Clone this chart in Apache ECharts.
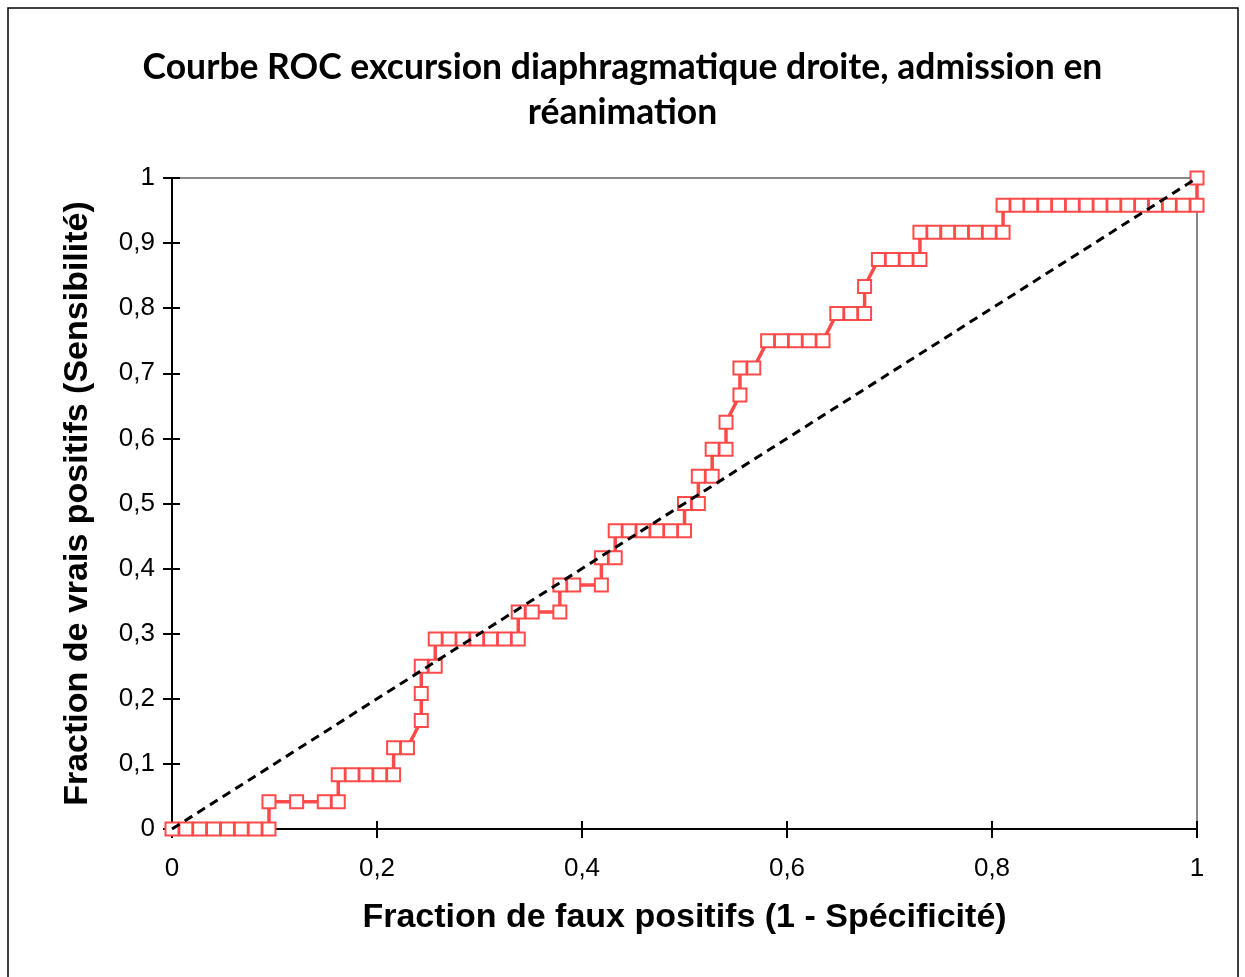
<!DOCTYPE html>
<html>
<head>
<meta charset="utf-8">
<title>Courbe ROC</title>
<script src="https://cdn.jsdelivr.net/npm/echarts@6/dist/echarts.min.js"></script>
<style>
  html, body { margin: 0; padding: 0; background: #fff; }
  #chart { width: 1245px; height: 977px; }
</style>
</head>
<body>
<div id="chart"></div>
<script>
// fraction de faux positifs (1 - spécificité)
const fpr = [
  0, 0.0135, 0.027, 0.0405, 0.0541, 0.0676, 0.0811, 0.0946,
  0.0946, 0.1216, 0.1486, 0.1622,
  0.1622, 0.1757, 0.1892, 0.2027, 0.2162,
  0.2162, 0.2297,
  0.2432, 0.2432, 0.2432, 0.2568,
  0.2568, 0.2703, 0.2838, 0.2973, 0.3108, 0.3243, 0.3378,
  0.3378, 0.3514, 0.3784,
  0.3784, 0.3919, 0.4189,
  0.4189, 0.4324,
  0.4324, 0.4459, 0.4595, 0.473, 0.4865, 0.5,
  0.5, 0.5135,
  0.5135, 0.527,
  0.527, 0.5405,
  0.5405,
  0.5541, 0.5541, 0.5676,
  0.5811, 0.5946, 0.6081, 0.6216, 0.6351,
  0.6486, 0.6622, 0.6757,
  0.6757,
  0.6892, 0.7027, 0.7162, 0.7297,
  0.7297, 0.7432, 0.7568, 0.7703, 0.7838, 0.7973, 0.8108,
  0.8108, 0.8243, 0.8378, 0.8514, 0.8649, 0.8784, 0.8919, 0.9054,
  0.9189, 0.9324, 0.9459, 0.9595, 0.973, 0.9865, 1,
  1
]

// fraction de vrais positifs (sensibilité)
const tpr = [
  0, 0, 0, 0, 0, 0, 0, 0,
  0.0417, 0.0417, 0.0417, 0.0417,
  0.0833, 0.0833, 0.0833, 0.0833, 0.0833,
  0.125, 0.125,
  0.1667, 0.2083, 0.25, 0.25,
  0.2917, 0.2917, 0.2917, 0.2917, 0.2917, 0.2917, 0.2917,
  0.3333, 0.3333, 0.3333,
  0.375, 0.375, 0.375,
  0.4167, 0.4167,
  0.4583, 0.4583, 0.4583, 0.4583, 0.4583, 0.4583,
  0.5, 0.5,
  0.5417, 0.5417,
  0.5833, 0.5833,
  0.625,
  0.6667, 0.7083, 0.7083,
  0.75, 0.75, 0.75, 0.75, 0.75,
  0.7917, 0.7917, 0.7917,
  0.8333,
  0.875, 0.875, 0.875, 0.875,
  0.9167, 0.9167, 0.9167, 0.9167, 0.9167, 0.9167, 0.9167,
  0.9583, 0.9583, 0.9583, 0.9583, 0.9583, 0.9583, 0.9583, 0.9583,
  0.9583, 0.9583, 0.9583, 0.9583, 0.9583, 0.9583, 0.9583,
  1
]

// diagonale de référence
const refX = [0, 1]
const refY = [0, 1]

const xTickLabels = ['0', '0,2', '0,4', '0,6', '0,8', '1']
const yTickLabels = ['0', '0,1', '0,2', '0,3', '0,4', '0,5', '0,6', '0,7', '0,8', '0,9', '1']

const rocColor = '#ff4a4a'
const labelFont = '"Liberation Sans", Arial, sans-serif'

const rocData = fpr.map((x, i) => [x, tpr[i]])
const refData = refX.map((x, i) => [x, refY[i]])

const chart = echarts.init(document.getElementById('chart'), null, { renderer: 'canvas' })

const commonX = {
  type: 'value',
  min: 0,
  max: 1,
  interval: 0.2,
  splitLine: { show: false }
}
const commonY = {
  type: 'value',
  min: 0,
  max: 1,
  interval: 0.1,
  splitLine: { show: false }
}

chart.setOption({
  backgroundColor: '#fff',
  animation: false,
  title: {
    text: 'Courbe ROC excursion diaphragmatique droite, admission en\nréanimation',
    left: 'center',
    top: 40,
    textStyle: {
      fontFamily: 'Lato, "Open Sans", sans-serif',
      fontWeight: 'bold',
      fontSize: 35.5,
      lineHeight: 45,
      color: '#000'
    }
  },
  graphic: [
    {
      type: 'rect',
      shape: { x: 8, y: 8, width: 1230, height: 985 },
      style: { fill: 'none', stroke: '#000', lineWidth: 1.5 },
      silent: true
    }
  ],
  grid: {
    left: 172,
    top: 178,
    right: 48,
    bottom: 148,
    show: true,
    borderColor: '#888',
    borderWidth: 2
  },
  xAxis: [
    Object.assign({}, commonX, {
      position: 'bottom',
      name: 'Fraction de faux positifs (1 - Spécificité)',
      nameLocation: 'middle',
      nameGap: 72,
      nameTextStyle: { fontFamily: labelFont, fontWeight: 'bold', fontSize: 34, color: '#000' },
      axisLine: { show: true, onZero: false, lineStyle: { color: '#000', width: 2 } },
      axisTick: { show: true, inside: false, length: 9, lineStyle: { color: '#000', width: 2 } },
      axisLabel: {
        margin: 27,
        fontFamily: labelFont,
        fontSize: 26,
        color: '#000',
        formatter: (v) => xTickLabels[Math.round(v / 0.2)]
      }
    }),
    Object.assign({}, commonX, {
      position: 'bottom',
      axisLine: { show: false },
      axisTick: { show: true, inside: true, length: 8, lineStyle: { color: '#000', width: 2 } },
      axisLabel: { show: false }
    })
  ],
  yAxis: [
    Object.assign({}, commonY, {
      position: 'left',
      name: 'Fraction de vrais positifs (Sensibilité)',
      nameLocation: 'middle',
      nameGap: 77,
      nameTextStyle: { fontFamily: labelFont, fontWeight: 'bold', fontSize: 34, color: '#000' },
      axisLine: { show: true, onZero: false, lineStyle: { color: '#000', width: 2 } },
      axisTick: { show: true, inside: false, length: 9, lineStyle: { color: '#000', width: 2 } },
      axisLabel: {
        margin: 17,
        fontFamily: labelFont,
        fontSize: 26,
        color: '#000',
        formatter: (v) => yTickLabels[Math.round(v / 0.1)]
      }
    }),
    Object.assign({}, commonY, {
      position: 'left',
      axisLine: { show: false },
      axisTick: { show: true, inside: true, length: 8, lineStyle: { color: '#000', width: 2 } },
      axisLabel: { show: false }
    })
  ],
  series: [
    {
      name: 'ROC',
      type: 'line',
      data: rocData,
      symbol: 'rect',
      symbolSize: 13,
      showAllSymbol: true,
      lineStyle: { color: rocColor, width: 3.5 },
      itemStyle: { color: '#fff', borderColor: rocColor, borderWidth: 2 },
      z: 3
    },
    {
      name: 'Référence',
      type: 'line',
      data: refData,
      symbol: 'none',
      lineStyle: { color: '#000', width: 3, type: [9, 6] },
      z: 4
    }
  ]
})
</script>
</body>
</html>
